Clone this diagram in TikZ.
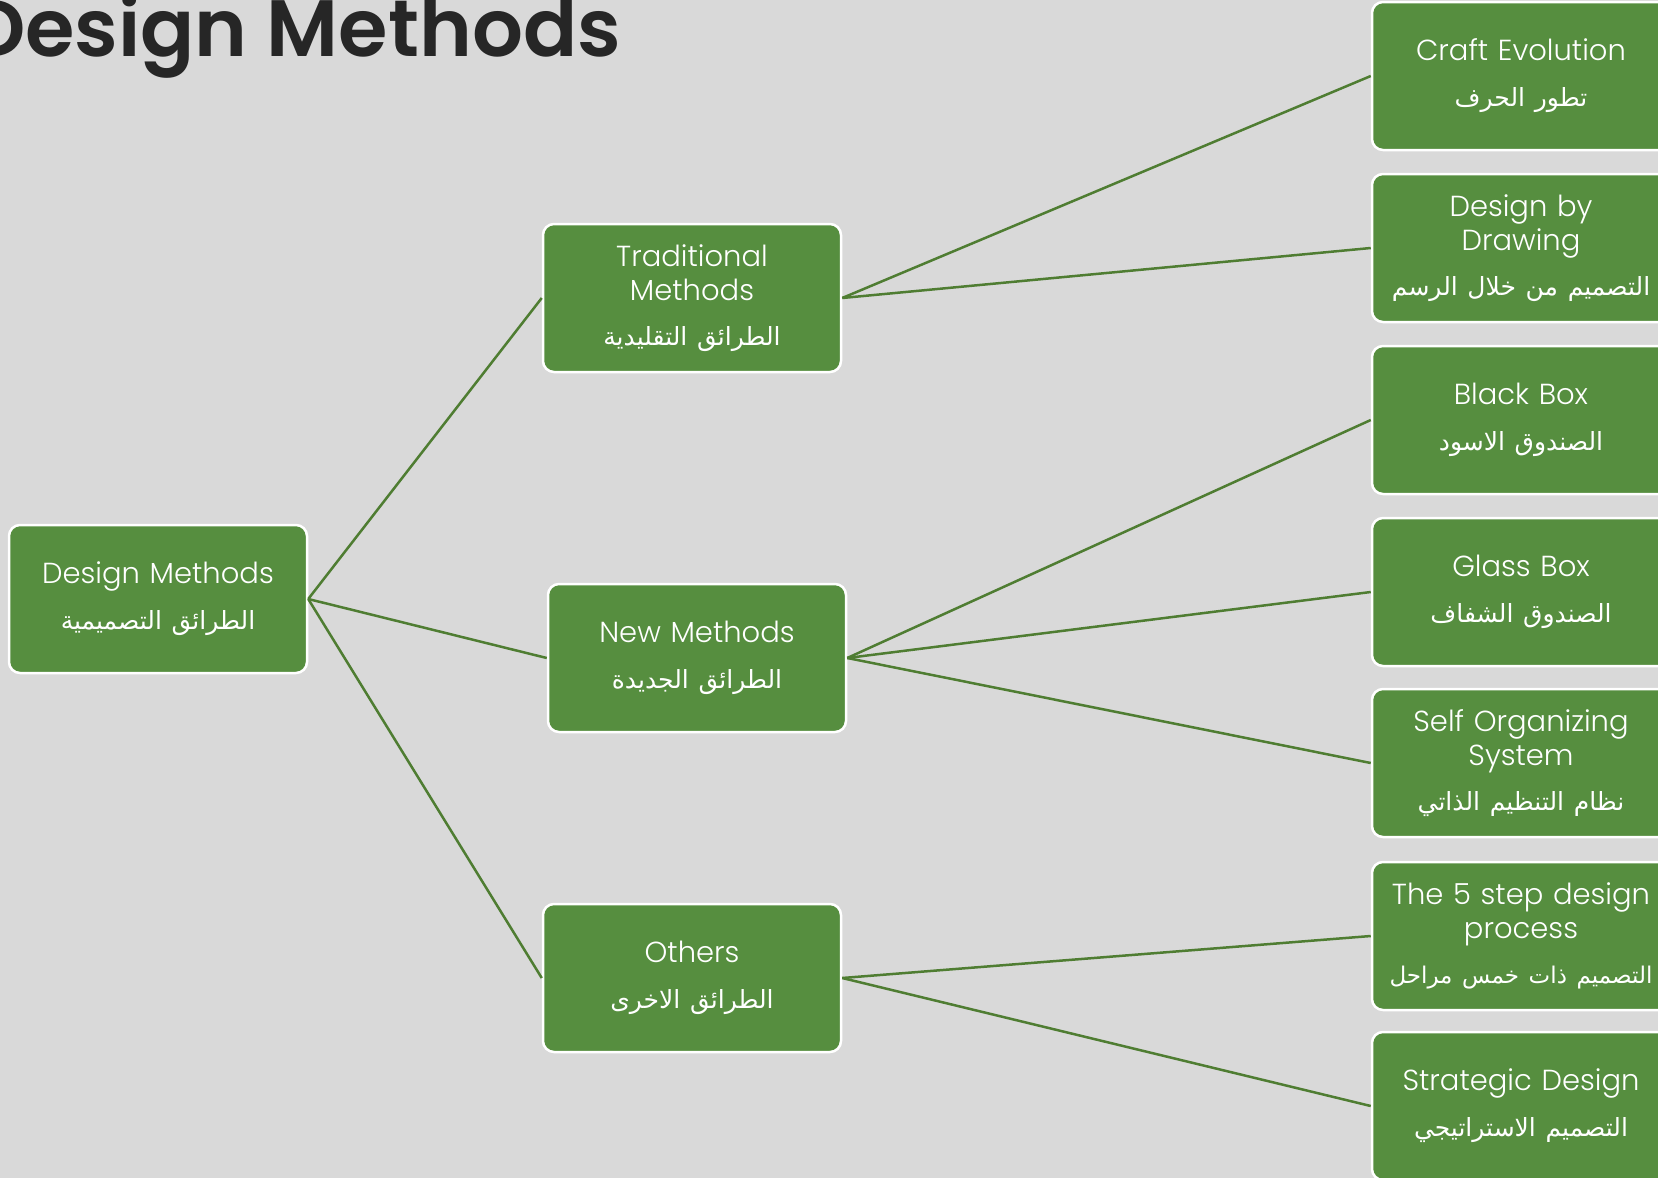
\documentclass[tikz,border=0pt]{standalone}
\usepackage{fontspec}
\setmainfont{Poppins}[UprightFont=* Light, BoldFont=* SemiBold]
\newfontfamily\arabicfont[Script=Arabic]{DejaVu Sans}
\TeXXeTstate=1
\newcommand\artxt[2][25]{{\arabicfont\fontsize{#1}{30}\selectfont\beginR #2\endR}}
\definecolor{bggray}{HTML}{D9D9D9}
\definecolor{boxgreen}{HTML}{568E3F}
\definecolor{linkgreen}{HTML}{4F7D32}
\definecolor{titlegray}{HTML}{262626}

\begin{document}
\begin{tikzpicture}[x=1pt,y=-1pt]
\tikzstyle{every node}=[inner sep=0pt]
\tikzstyle{box}=[rectangle, rounded corners=11pt, draw=white, line width=2.5pt, fill=boxgreen,
  text=white, align=center, text width=290pt, inner xsep=4pt, minimum height=148pt,
  font=\fontsize{29}{34}\selectfont]
\tikzstyle{link}=[draw=linkgreen, line width=2.5pt]
\fill[bggray] (0,0) rectangle (1658,1178);
\useasboundingbox (0,0) rectangle (1658,1178);
\clip (0,0) rectangle (1658,1178);
\draw (-32,56) node (title) [anchor=base west, text=titlegray, font=\fontsize{80}{86}\selectfont\bfseries] {Design Methods};
\draw (158,599) node (dm) [box] {Design Methods\\[12pt]\artxt{الطرائق التصميمية}};
\draw (692,298) node (trad) [box] {Traditional\\Methods\\[11pt]\artxt{الطرائق التقليدية}};
\draw (697,658) node (new) [box] {New Methods\\[12pt]\artxt{الطرائق الجديدة}};
\draw (692,978) node (oth) [box] {Others\\[12pt]\artxt{الطرائق الاخرى}};
\draw (1521,76) node (craft) [box] {Craft Evolution\\[12pt]\artxt{تطور الحرف}};
\draw (1521,248) node (draw) [box] {Design by\\Drawing\\[11pt]\artxt{التصميم من خلال الرسم}};
\draw (1521,420) node (black) [box] {Black Box\\[12pt]\artxt{الصندوق الاسود}};
\draw (1521,592) node (glass) [box] {Glass Box\\[12pt]\artxt{الصندوق الشفاف}};
\draw (1521,763) node (self) [box] {Self Organizing\\System\\[11pt]\artxt{نظام التنظيم الذاتي}};
\draw (1521,936) node (five) [box] {The 5 step design\\process\\[11pt]\artxt[23]{التصميم ذات خمس مراحل}};
\draw (1521,1106) node (strat) [box] {Strategic Design\\[12pt]\artxt{التصميم الاستراتيجي}};
\draw[link] (dm.east) -- (trad.west);
\draw[link] (dm.east) -- (new.west);
\draw[link] (dm.east) -- (oth.west);
\draw[link] (trad.east) -- (craft.west);
\draw[link] (trad.east) -- (draw.west);
\draw[link] (new.east) -- (black.west);
\draw[link] (new.east) -- (glass.west);
\draw[link] (new.east) -- (self.west);
\draw[link] (oth.east) -- (five.west);
\draw[link] (oth.east) -- (strat.west);
\end{tikzpicture}
\end{document}
